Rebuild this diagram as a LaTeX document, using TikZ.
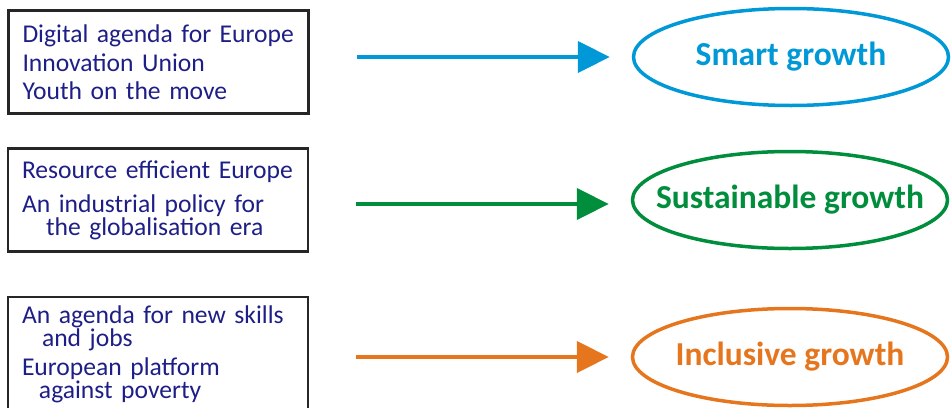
\documentclass[tikz,border=0pt]{standalone}
\usepackage{fontspec}
\setmainfont{Carlito}
\usepackage{tikz}
\usetikzlibrary{shapes.geometric,arrows.meta}
\definecolor{navytext}{RGB}{30, 30, 135}
\definecolor{smartblue}{RGB}{0, 152, 214}
\definecolor{sustgreen}{RGB}{0, 142, 60}
\definecolor{inclorange}{RGB}{229, 118, 30}

\begin{document}
\begin{tikzpicture}[x=1pt, y=-1pt,
    flagship/.style={draw=black!85, line width=2.6pt, text width=272pt, inner xsep=14pt,
        align=left, text=navytext, font=\fontsize{25.6}{21.5}\selectfont},
    growth/.style={ellipse, line width=3.5pt, inner sep=0pt, minimum width=315pt,
        minimum height=97pt, font=\fontsize{33.5}{36}\selectfont\bfseries},
    link/.style={line width=4.5pt, -{Triangle[length=32pt, width=31pt]},
        shorten <=47pt, shorten >=22pt}]
    \useasboundingbox (0,0) rectangle (952,407);

    % flagship initiatives
    \node[flagship, minimum height=103pt] (digital) at (158.5,62)
        {Digital agenda for Europe\\[6pt]Innovation Union\\[6pt]Youth on the move};
    \node[flagship, minimum height=103pt] (resource) at (158,200)
        {Resource efficient Europe\\[11pt]An industrial policy for\\\hspace*{24pt}the globalisation era};
    \node[flagship, minimum height=114pt] (skills) at (158,354)
        {An agenda for new skills\\\hspace*{20pt}and jobs\\[6pt]European platform\\\hspace*{17pt}against poverty};

    % priorities
    \node[growth, draw=smartblue, text=smartblue] (smart) at (791,57)
        {\makebox[0pt]{Smart growth}};
    \node[growth, draw=sustgreen, text=sustgreen] (sustainable) at (790,200)
        {\makebox[0pt]{Sustainable growth}};
    \node[growth, draw=inclorange, text=inclorange] (inclusive) at (790,357)
        {\makebox[0pt]{Inclusive growth}};

    % links
    \draw[link, smartblue] (digital.east |- smart.west) -- (smart.west);
    \draw[link, sustgreen] ([yshift=-4pt]resource.east |- sustainable.west) -- ([yshift=-4pt]sustainable.west);
    \draw[link, inclorange] (skills.east |- inclusive.west) -- (inclusive.west);
\end{tikzpicture}
\end{document}
